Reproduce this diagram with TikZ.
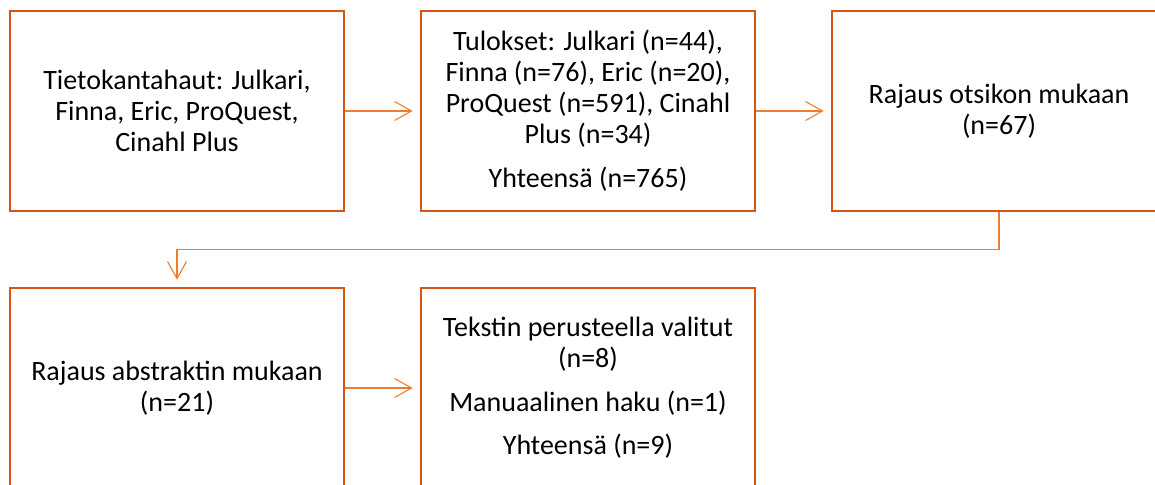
\documentclass[tikz,border=0pt]{standalone}
\usepackage{fontspec}
\setmainfont{Carlito}
\usetikzlibrary{arrows.meta}
\definecolor{boxorange}{RGB}{212,86,20}
\definecolor{lineorange}{RGB}{237,125,49}
\begin{document}
\begin{tikzpicture}[x=1pt,y=-1pt,
  stagebox/.style={draw=boxorange,line width=2.7pt,minimum width=334pt,minimum height=200pt,
    align=center,inner sep=0pt,font=\fontsize{28}{31}\selectfont},
  conn/.style={draw=lineorange,line width=1.1pt,-{Straight Barb[length=17pt,width=19pt,line width=1.1pt]},shorten >=7pt}]
\useasboundingbox (0,0) rectangle (1155,484);
\node[stagebox] (b1) at (177,111) {Tietokantahaut: Julkari,\\Finna, Eric, ProQuest,\\Cinahl Plus};
\node[stagebox] (b2) at (588,111) {Tulokset: Julkari (n=44),\\Finna (n=76), Eric (n=20),\\ProQuest (n=591), Cinahl\\Plus (n=34)\\[13pt]Yhteensä (n=765)};
\node[stagebox] (b3) at (999,111) {Rajaus otsikon mukaan\\(n=67)};
\node[stagebox] (b4) at (177,388) {Rajaus abstraktin mukaan\\(n=21)};
\node[stagebox] (b5) at (588,388) {Tekstin perusteella valitut\\(n=8)\\[12.5pt]Manuaalinen haku (n=1)\\[12.5pt]Yhteensä (n=9)};
\draw[conn] (b1.east) -- (b2.west);
\draw[conn] (b2.east) -- (b3.west);
\draw[conn] (b3.south) -- ++(0,37) -| (b4.north);
\draw[conn] (b4.east) -- (b5.west);
\end{tikzpicture}
\end{document}
